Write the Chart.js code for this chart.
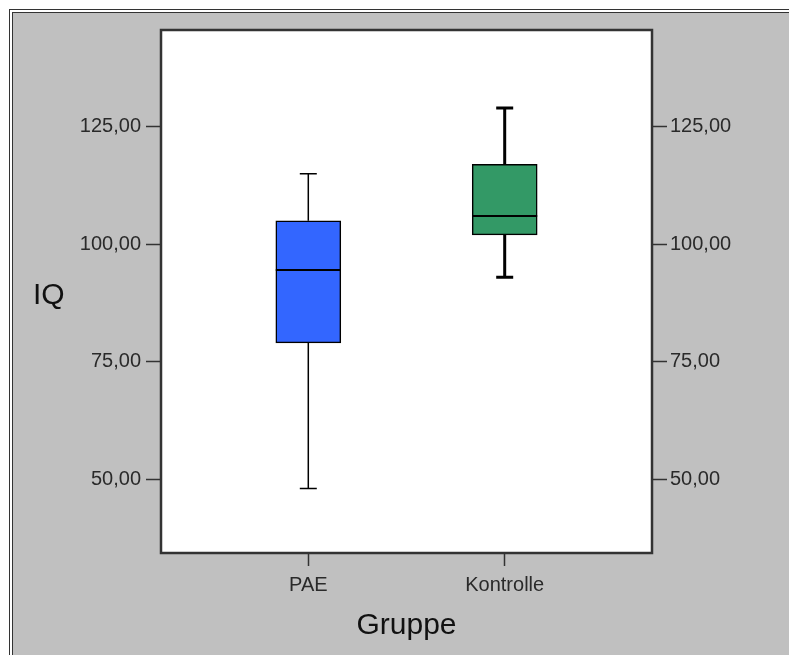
<!DOCTYPE html>
<html>
<head>
<meta charset="utf-8">
<script src="https://cdn.jsdelivr.net/npm/chart.js@4/dist/chart.umd.min.js"></script>
<style>
html, body { margin: 0; padding: 0; background: #fff; overflow: hidden; }
#frame { position: absolute; left: 9px; top: 9px; width: 800px; height: 660px; border: 1px solid #333; }
#inner { position: absolute; left: 2px; top: 2px; right: 0; bottom: 0; border-left: 1px solid #333; border-top: 1px solid #333; background: #c0c0c0; }
#chart { position: absolute; left: 0; top: 0; }
</style>
</head>
<body>
<div id="frame"><div id="inner"></div></div>
<canvas id="chart" width="789" height="655"></canvas>
<script>
const categories = ['PAE', 'Kontrolle'];
const xPositions = [0, 1];
const minValues = [48, 93];
const q1Values = [79, 102];
const medianValues = [94.5, 106];
const q3Values = [105, 117];
const maxValues = [115, 129];
const yTicks = [50, 75, 100, 125];
const yMin = 34.3;
const yMax = 145.6;

const boxColors = ['#3366ff', '#339966'];
const whiskerWidths = [1.5, 3];
const capHalf = 8.5;

Chart.defaults.font.family = '"Liberation Sans", Arial, sans-serif';

const fmt = v => v.toFixed(2).replace('.', ',');

const yAxis = (position) => ({
    type: 'linear',
    position: position,
    min: yMin,
    max: yMax,
    afterBuildTicks: s => { s.ticks = yTicks.map(v => ({ value: v })); },
    afterFit: s => { s.width = position === 'left' ? 161 : 137; },
    grid: { drawOnChartArea: false, drawTicks: true, tickLength: 15, tickWidth: 1.5, tickColor: '#333' },
    border: { display: false },
    ticks: { padding: position === 'left' ? 5 : 3, color: '#2a2a2a', font: { size: 20 }, callback: v => fmt(v) }
});

// white plot area, whiskers, medians, frame and the horizontal IQ label
const boxPlot = {
    id: 'boxPlot',
    beforeDraw(chart) {
        const { ctx, chartArea: a } = chart;
        ctx.save();
        ctx.fillStyle = '#fff';
        ctx.fillRect(a.left, a.top, a.right - a.left, a.bottom - a.top);
        ctx.restore();
    },
    beforeDatasetsDraw(chart) {
        const { ctx, scales: { x, y } } = chart;
        ctx.save();
        ctx.strokeStyle = '#000';
        xPositions.forEach((p, i) => {
            const cx = x.getPixelForValue(p);
            ctx.lineWidth = whiskerWidths[i];
            ctx.beginPath();
            ctx.moveTo(cx, y.getPixelForValue(minValues[i]));
            ctx.lineTo(cx, y.getPixelForValue(q1Values[i]));
            ctx.moveTo(cx, y.getPixelForValue(q3Values[i]));
            ctx.lineTo(cx, y.getPixelForValue(maxValues[i]));
            [minValues[i], maxValues[i]].forEach(v => {
                const py = y.getPixelForValue(v);
                ctx.moveTo(cx - capHalf, py);
                ctx.lineTo(cx + capHalf, py);
            });
            ctx.stroke();
        });
        ctx.restore();
    },
    afterDatasetsDraw(chart) {
        const { ctx, scales: { y } } = chart;
        const meta = chart.getDatasetMeta(0);
        ctx.save();
        ctx.strokeStyle = '#000';
        ctx.lineWidth = 2;
        meta.data.forEach((bar, i) => {
            const py = y.getPixelForValue(medianValues[i]);
            ctx.beginPath();
            ctx.moveTo(bar.x - bar.width / 2, py);
            ctx.lineTo(bar.x + bar.width / 2, py);
            ctx.stroke();
        });
        ctx.restore();
    },
    afterDraw(chart) {
        const { ctx, chartArea: a } = chart;
        ctx.save();
        ctx.strokeStyle = '#333';
        ctx.lineWidth = 2.5;
        ctx.strokeRect(a.left, a.top, a.right - a.left, a.bottom - a.top);
        ctx.fillStyle = '#111';
        ctx.font = '30px "Liberation Sans", Arial, sans-serif';
        ctx.textBaseline = 'alphabetic';
        ctx.textAlign = 'left';
        ctx.fillText('IQ', 33, (a.top + a.bottom) / 2 + 12);
        ctx.restore();
    }
};

new Chart(document.getElementById('chart'), {
    type: 'bar',
    data: {
        datasets: [{
            data: xPositions.map((p, i) => ({ x: p, y: [q1Values[i], q3Values[i]] })),
            backgroundColor: boxColors,
            borderColor: '#000',
            borderWidth: 1.5,
            borderSkipped: false,
            barThickness: 65
        }]
    },
    options: {
        responsive: false,
        animation: false,
        layout: { padding: { top: 30, left: 0, right: 0, bottom: 0 } },
        plugins: { legend: { display: false }, tooltip: { enabled: false } },
        scales: {
            x: {
                type: 'linear',
                min: -0.75,
                max: 1.75,
                offset: false,
                afterBuildTicks: s => { s.ticks = xPositions.map(v => ({ value: v })); },
                afterFit: s => { s.height = 102; },
                grid: { offset: false, drawOnChartArea: false, drawTicks: true, tickLength: 13, tickWidth: 1.5, tickColor: '#333' },
                border: { display: false },
                ticks: { padding: 7, color: '#2a2a2a', font: { size: 20 }, maxRotation: 0, callback: (v, i) => categories[i] },
                title: { display: true, text: 'Gruppe', color: '#111', font: { size: 30 }, padding: { top: 0, bottom: 11 } }
            },
            y: yAxis('left'),
            y2: yAxis('right')
        }
    },
    plugins: [boxPlot]
});
</script>
</body>
</html>
